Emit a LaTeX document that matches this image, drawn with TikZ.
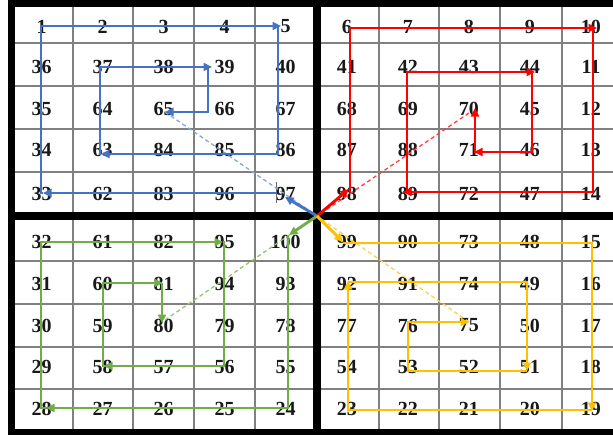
\documentclass[tikz,border=0pt]{standalone}
\usepackage{fontspec}
\setmainfont{Liberation Serif}
\usetikzlibrary{arrows.meta}
\definecolor{cblue}{HTML}{4472C4}
\definecolor{cred}{HTML}{FF0000}
\definecolor{cgreen}{HTML}{70AD47}
\definecolor{cyell}{HTML}{FFC000}
\definecolor{lblue}{HTML}{7FA8DE}
\definecolor{lred}{HTML}{FF4040}
\definecolor{lgreen}{HTML}{95C475}
\definecolor{lyell}{HTML}{FFD050}
\tikzset{
  grid line/.style={draw=black!50, line width=1.2pt},
  frame line/.style={draw=black, line width=7.5pt},
  num/.style={font=\fontsize{20}{20}\selectfont\bfseries, inner sep=0pt, text=black!90},
  spiral/.style={line width=2.9pt},
  arr/.style={-{Triangle[length=8.5pt,width=8pt]}},
  guide/.style={line width=1.3pt, dash pattern=on 4pt off 3pt},
}
\newcommand\numrow[2]{\foreach \v [count=\i] in {#2} {\node[num] (n\v) at ({11+61.05*(\i-0.5)},#1) {\v};}}
\begin{document}
\begin{tikzpicture}[x=1pt,y=-1pt]
\useasboundingbox (0,0) rectangle (613,434);
\fill[white] (0,0) rectangle (613,434);
% thin grid
\foreach \x in {73,133,194,255,379,439,500,562} \draw[grid line] (\x,3) -- (\x,432.5);
\foreach \y in {43,86,129,172,261,304,347,389} \draw[grid line] (11.5,\y) -- (623,\y);
% thick frame
\draw[frame line] (11.5,3) rectangle (623,432.5);
\draw[frame line] (317,3) -- (317,432.5);
\draw[frame line] (11.5,216) -- (623,216);
% numbers
\numrow{26.5}{1,2,3,4,5,6,7,8,9,10}
\numrow{67}{36,37,38,39,40,41,42,43,44,11}
\numrow{109}{35,64,65,66,67,68,69,70,45,12}
\numrow{150}{34,63,84,85,86,87,88,71,46,13}
\numrow{193.5}{33,62,83,96,97,98,89,72,47,14}
\numrow{241.5}{32,61,82,95,100,99,90,73,48,15}
\numrow{283.5}{31,60,81,94,93,92,91,74,49,16}
\numrow{325.5}{30,59,80,79,78,77,76,75,50,17}
\numrow{367}{29,58,57,56,55,54,53,52,51,18}
\numrow{409}{28,27,26,25,24,23,22,21,20,19}
% centre
\coordinate (C) at (317,216);
% small tick near 97
\coordinate (T1) at (276,182);
\coordinate (T2) at (276,203);
\draw[black!60, line width=0.8pt] (T1) -- (T2);
% blue spiral
\coordinate (B0) at (285,197);
\coordinate (B1) at (277,193);
\coordinate (B2) at (43,193);
\coordinate (B3) at (41,193);
\coordinate (B4) at (41,26);
\coordinate (B5) at (281,26);
\coordinate (B6) at (278,26);
\coordinate (B7) at (278,154);
\coordinate (B8) at (101,154);
\coordinate (B9) at (100,154);
\coordinate (B10) at (100,67);
\coordinate (B11) at (212,67);
\coordinate (B12) at (208,67);
\coordinate (B13) at (208,112);
\coordinate (B14) at (165,112);
\draw[guide,lblue] (B14) -- (C);
\draw[spiral,cblue,arr] (C) -- (B0);
\draw[spiral,cblue,arr] (B1) -- (B2);
\draw[spiral,cblue,arr] (B2) -- (B3) -- (B4) -- (B5);
\draw[spiral,cblue,arr] (B6) -- (B7) -- (B8);
\draw[spiral,cblue,arr] (B8) -- (B9) -- (B10) -- (B11);
\draw[spiral,cblue,arr] (B12) -- (B13) -- (B14);
% red spiral
\coordinate (R0) at (349,189);
\coordinate (R1) at (350,192);
\coordinate (R2) at (350,28);
\coordinate (R3) at (597,28);
\coordinate (R4) at (593,28);
\coordinate (R5) at (593,192);
\coordinate (R6) at (403,192);
\coordinate (R7) at (407,192);
\coordinate (R8) at (407,72);
\coordinate (R9) at (535,72);
\coordinate (R10) at (532,72);
\coordinate (R11) at (532,152);
\coordinate (R12) at (474,152);
\coordinate (R13) at (475,152);
\coordinate (R14) at (475,108);
\coordinate (R15) at (469,113);
\draw[guide,lred] (R15) -- (C);
\draw[spiral,cred,arr] (C) -- (R0);
\draw[spiral,cred,arr] (R1) -- (R2) -- (R3);
\draw[spiral,cred,arr] (R4) -- (R5) -- (R6);
\draw[spiral,cred,arr] (R6) -- (R7) -- (R8) -- (R9);
\draw[spiral,cred,arr] (R10) -- (R11) -- (R12);
\draw[spiral,cred,arr] (R12) -- (R13) -- (R14);
% green spiral
\coordinate (G0) at (289,235);
\coordinate (G1) at (288,236);
\coordinate (G2) at (288,408);
\coordinate (G3) at (46,408);
\coordinate (G4) at (41,408);
\coordinate (G5) at (41,242);
\coordinate (G6) at (223,242);
\coordinate (G7) at (224,242);
\coordinate (G8) at (224,366);
\coordinate (G9) at (104,366);
\coordinate (G10) at (103,366);
\coordinate (G11) at (103,283);
\coordinate (G12) at (163,283);
\coordinate (G13) at (162,283);
\coordinate (G14) at (162,323);
\coordinate (G15) at (165,320);
\draw[guide,lgreen] (G15) -- (C);
\draw[spiral,cgreen,arr] (C) -- (G0);
\draw[spiral,cgreen,arr] (G1) -- (G2) -- (G3);
\draw[spiral,cgreen,arr] (G3) -- (G4) -- (G5) -- (G6);
\draw[spiral,cgreen,arr] (G6) -- (G7) -- (G8) -- (G9);
\draw[spiral,cgreen,arr] (G9) -- (G10) -- (G11) -- (G12);
\draw[spiral,cgreen,arr] (G13) -- (G14);
% yellow spiral
\coordinate (Y0) at (343,242);
\coordinate (Y1) at (343,243);
\coordinate (Y2) at (592,243);
\coordinate (Y3) at (592,411);
\coordinate (Y4) at (592,410);
\coordinate (Y5) at (348,410);
\coordinate (Y6) at (348,281);
\coordinate (Y7) at (348,282);
\coordinate (Y8) at (527,282);
\coordinate (Y9) at (527,371);
\coordinate (Y10) at (408,371);
\coordinate (Y11) at (408,322);
\coordinate (Y12) at (469,322);
\draw[guide,lyell] (Y12) -- (C);
\draw[spiral,cyell,arr] (C) -- (Y0);
\draw[spiral,cyell,arr] (Y1) -- (Y2) -- (Y3);
\draw[spiral,cyell,arr] (Y4) -- (Y5) -- (Y6);
\draw[spiral,cyell,arr] (Y7) -- (Y8) -- (Y9);
\draw[spiral,cyell,arr] (Y9) -- (Y10) -- (Y11) -- (Y12);
\end{tikzpicture}
\end{document}
